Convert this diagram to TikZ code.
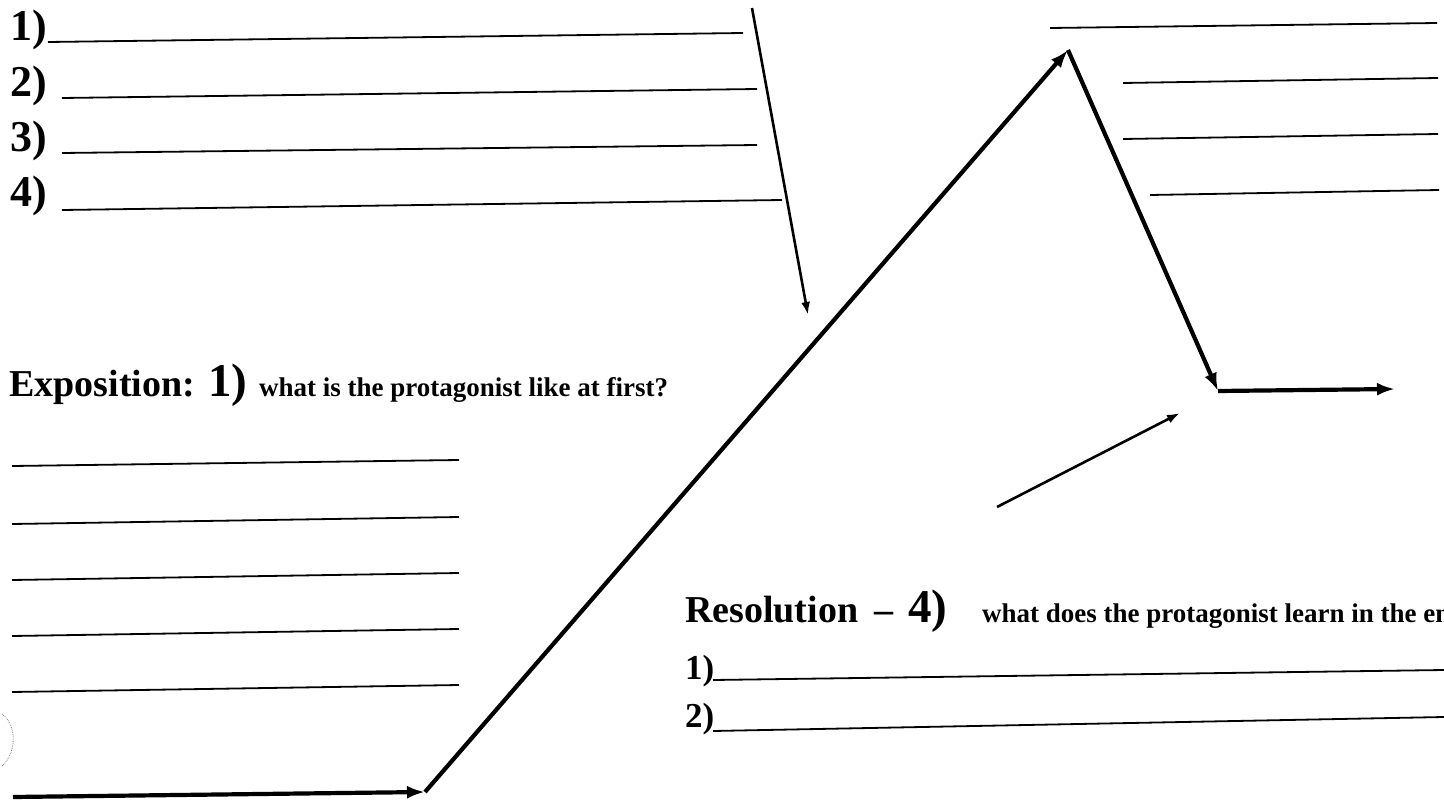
\documentclass[tikz,border=0pt]{standalone}
\usepackage{fontspec}
\setmainfont{Liberation Serif}
\usetikzlibrary{arrows.meta}
\tikzset{
  blank/.style={line width=1.8pt},
  plotline/.style={line width=4.2pt, -{Latex[length=18pt,width=13pt]}},
  pointer/.style={line width=2.6pt, -{Latex[length=13pt,width=9pt]}},
  txt/.style={anchor=base west, inner sep=0pt},
  numlabel/.style={txt, font=\bfseries\fontsize{44}{44}\selectfont},
  headlabel/.style={txt, font=\bfseries\fontsize{38}{38}\selectfont},
  bignum/.style={txt, font=\bfseries\fontsize{47}{47}\selectfont},
  asklabel/.style={txt, font=\bfseries\fontsize{27}{27}\selectfont},
  subnum/.style={txt, font=\bfseries\fontsize{35}{35}\selectfont},
}
\begin{document}
\begin{tikzpicture}[x=1pt, y=-1pt]
  \useasboundingbox (0,0) rectangle (1444,808);

  % rising action list
  \node[numlabel] (ra1) at (10,41) {1)};
  \node[numlabel] (ra2) at (10,96) {2)};
  \node[numlabel] (ra3) at (10,151) {3)};
  \node[numlabel] (ra4) at (10,206) {4)};
  \draw[blank] (48,42) -- (743,33);
  \draw[blank] (62,98) -- (757,89);
  \draw[blank] (62,153) -- (757,145);
  \draw[blank] (62,210) -- (782,200);

  % climax lines
  \draw[blank] (1050,28) -- (1437,23);
  \draw[blank] (1123,83) -- (1438,78);
  \draw[blank] (1123,139) -- (1438,134);
  \draw[blank] (1150,195) -- (1439,190);

  % exposition
  \node[headlabel] (expo) at (9,396) {Exposition:};
  \node[bignum] (expo1) at (208,396) {1)};
  \node[asklabel] (expoask) at (259,396) {what is the protagonist like at first?};
  \foreach \y/\d in {466/-6, 524/-7, 580/-7, 636/-7, 692/-7}{
    \draw[blank] (12,\y) -- (459,\y+\d);
  }

  % resolution
  \node[headlabel] (reso) at (685,622) {Resolution};
  \node[headlabel] (resodash) at (874,622) {--};
  \node[bignum] (reso4) at (908,622) {4)};
  \node[asklabel] (resoask) at (982,622) {what does the protagonist learn in the end?};
  \node[subnum] (rs1) at (685,679) {1)};
  \node[subnum] (rs2) at (685,727) {2)};
  \draw[blank] (713,680) -- (1444,670);
  \draw[blank] (713,731) -- (1444,717);

  % plot
  \coordinate (start) at (13,797);
  \coordinate (foot) at (425,792);
  \coordinate (peak) at (1068,50);
  \coordinate (fall) at (1218,391);
  \coordinate (finish) at (1395,389);
  \draw[plotline] (start) -- (foot);
  \draw[plotline] (foot) -- (peak);
  \draw[plotline] (peak) -- (fall);
  \draw[plotline] (fall) -- (finish);

  % pointers
  \coordinate (ptra) at (752,8);
  \coordinate (ptrb) at (808,315);
  \coordinate (ptrc) at (997,507);
  \coordinate (ptrd) at (1180,413);
  \draw[pointer] (ptra) -- (ptrb);
  \draw[pointer] (ptrc) -- (ptrd);

  % punch hole mark
  \draw[gray, densely dotted, line width=0.8pt] (2,714) .. controls (18,726) and (16,754) .. (2,766);
\end{tikzpicture}
\end{document}
